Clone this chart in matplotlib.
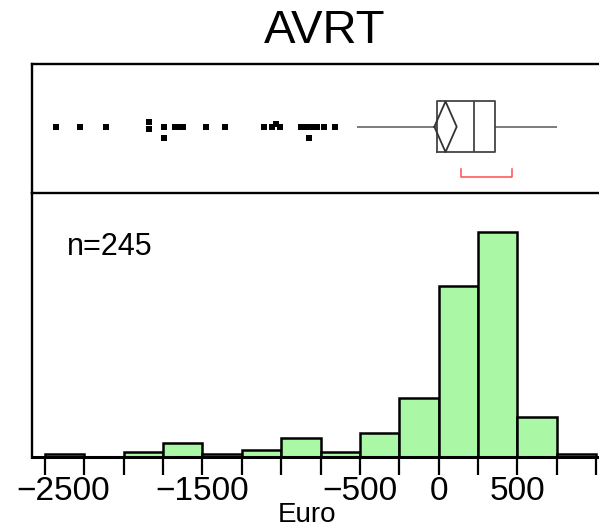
import matplotlib
matplotlib.use("Agg")
import matplotlib.pyplot as plt
import matplotlib.transforms as mtransforms
import numpy as np

# histogram: bin edges and counts
bin_edges = [-2500, -2250, -2000, -1750, -1500, -1250, -1000, -750,
             -500, -250, 0, 250, 500, 750, 1000]
counts = [1, 0, 2, 6, 1, 3, 8, 2, 10, 25, 73, 96, 17, 1]
n_total = 245

# box plot summary (Euro)
q1, median, q3 = -8, 222, 360
whisker_lo, whisker_hi = -520, 753
mean, mean_ci_lo, mean_ci_hi = 44, -27, 115
shortest_half = (141, 465)

# outliers and their vertical jitter (axis units)
outlier_vals = [-2433, -2275, -2116, -1842, -1842, -1747, -1747,
                -1677, -1652, -1626, -1480, -1360, -1112,
                -1061, -1036, -1010, -877, -851, -826, -826, -800, -775,
                -731, -661]
outlier_jitter = [0, 0, 0, 0.035, -0.015, 0, -0.085,
                  0, 0, 0, 0, 0, 0,
                  0, 0.02, 0, 0, 0, 0, -0.09, 0, 0,
                  0, 0]

tick_vals = np.arange(-2500, 1001, 250)
tick_text = {-2500: "\u22122500", -1500: "\u22121500", -500: "\u2212500",
             0: "0", 500: "500"}

W, H = 599, 529
fig = plt.figure(figsize=(W / 100, H / 100), dpi=100)

left = 31.7 / W
ax_hist = fig.add_axes([left, 1 - 456.7 / H, 1 - left, 263.4 / H])
ax_box = fig.add_axes([left, 1 - 193.3 / H, 1 - left, 129 / H])
ax_box.set_facecolor("none")

xlim = (-2585, 1019)
spine_w = 1.7

# ---- box panel ----
yc = 0.516
half = 0.196
ax_box.hlines(yc, whisker_lo, q1, color="#666666", lw=1.2)
ax_box.hlines(yc, q3, whisker_hi, color="#666666", lw=1.2)
ax_box.plot([q1, q3, q3, q1, q1], [yc - half, yc - half, yc + half, yc + half, yc - half],
            color="#444444", lw=1.3)
ax_box.vlines(median, yc - half, yc + half, color="#444444", lw=1.3)
ax_box.plot([mean_ci_lo, mean, mean_ci_hi, mean, mean_ci_lo],
            [yc, yc + half, yc, yc - half, yc], color="#333333", lw=1.3)
sh_lo, sh_hi = shortest_half
ax_box.plot([sh_lo, sh_lo, sh_hi, sh_hi], [0.19, 0.124, 0.124, 0.19],
            color="#ff4d4d", lw=1.1)
ax_box.plot(outlier_vals, yc + np.array(outlier_jitter), "s", color="black",
            markersize=4.0, markeredgewidth=0)
ax_box.set_xlim(xlim)
ax_box.set_ylim(0, 1)
ax_box.set_xticks([])
ax_box.set_yticks([])
ax_box.spines["right"].set_visible(False)
for s in ("top", "left", "bottom"):
    ax_box.spines[s].set_linewidth(spine_w)

# ---- histogram panel ----
edges = np.array(bin_edges)
ax_hist.bar(edges[:-1], counts, width=np.diff(edges), align="edge",
            color="#aaf8a6", edgecolor="black", linewidth=1.8)
ax_hist.set_xlim(xlim)
ax_hist.set_ylim(0, 112.5)
ax_hist.set_yticks([])
ax_hist.spines["right"].set_visible(False)
ax_hist.spines["top"].set_visible(False)
ax_hist.spines["left"].set_linewidth(spine_w)
ax_hist.spines["bottom"].set_linewidth(2.2)
ax_hist.set_xticks(tick_vals)
ax_hist.set_xticklabels([tick_text.get(int(v), "") for v in tick_vals],
                        family="Liberation Sans", fontsize=24)
ax_hist.tick_params(axis="x", length=13, width=1.6, pad=1)
# first label nudged right so it stays inside the figure
first = ax_hist.get_xticklabels()[0]
first.set_transform(first.get_transform() +
                    mtransforms.ScaledTranslation(18 / 100, 0, fig.dpi_scale_trans))

ax_hist.text(0.0617, 0.766, f"n={n_total}", transform=ax_hist.transAxes,
             family="Liberation Sans", fontsize=22, va="baseline")

fig.text(307 / W, 1.5 / H, "Euro", family="Liberation Sans", fontsize=20,
         ha="center", va="bottom")
fig.text(325 / W, 1 - 43 / H, "AVRT", family="Liberation Sans",
         fontsize=34, ha="center", va="baseline")

fig.savefig("out.png", dpi=100)
